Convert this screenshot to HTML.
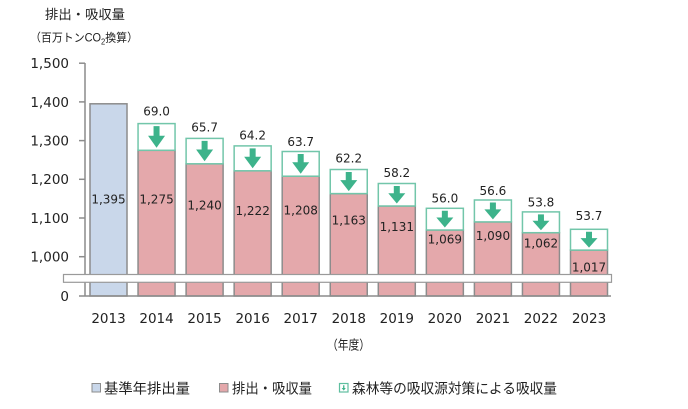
<!DOCTYPE html>
<html><head><meta charset="utf-8"><style>
html,body{margin:0;padding:0;background:#fff;}
svg{display:block;}
.t{font-family:"DejaVu Sans","Liberation Sans",sans-serif;fill:#222;}
.j{font-family:"Liberation Sans","Noto Sans CJK JP",sans-serif;fill:#222;}
</style></head><body>
<svg width="688" height="409" viewBox="0 0 688 409" xmlns="http://www.w3.org/2000/svg">
<rect width="688" height="409" fill="#fff"/>
<!-- titles -->
<text class="j" x="45" y="19" font-size="13" textLength="80" lengthAdjust="spacingAndGlyphs">排出・吸収量</text>
<text class="j" x="30" y="41.5" font-size="11.5" textLength="108" lengthAdjust="spacingAndGlyphs">（百万トンCO<tspan font-size="8" dy="3">2</tspan><tspan dy="-3">換算）</tspan></text>

<!-- y tick labels -->
<g class="t" font-size="13.5" text-anchor="end">
<text x="69" y="68.1">1,500</text>
<text x="69" y="106.8">1,400</text>
<text x="69" y="145.5">1,300</text>
<text x="69" y="184.2">1,200</text>
<text x="69" y="222.9">1,100</text>
<text x="69" y="261.6">1,000</text>
<text x="69" y="300.9">0</text>
</g>

<!-- bars -->
<g stroke="#8c8c8c" stroke-width="1.5">
<rect x="90" y="103.8" width="37" height="192.2" fill="#c9d7ea"/>
<rect x="138.05" y="150.3" width="37" height="145.7" fill="#e4a8ab"/>
<rect x="186.1" y="163.8" width="37" height="132.2" fill="#e4a8ab"/>
<rect x="234.15" y="170.8" width="37" height="125.2" fill="#e4a8ab"/>
<rect x="282.2" y="176.2" width="37" height="119.8" fill="#e4a8ab"/>
<rect x="330.25" y="193.6" width="37" height="102.4" fill="#e4a8ab"/>
<rect x="378.3" y="206.0" width="37" height="90" fill="#e4a8ab"/>
<rect x="426.35" y="230.0" width="37" height="66" fill="#e4a8ab"/>
<rect x="474.4" y="221.9" width="37" height="74.1" fill="#e4a8ab"/>
<rect x="522.45" y="232.7" width="37" height="63.3" fill="#e4a8ab"/>
<rect x="570.5" y="250.1" width="37" height="45.9" fill="#e4a8ab"/>
</g>

<!-- green boxes -->
<g stroke="#72c6aa" stroke-width="1.5" fill="#fff">
<rect x="138.05" y="123.6" width="37" height="26.7"/>
<rect x="186.1" y="138.4" width="37" height="25.4"/>
<rect x="234.15" y="145.9" width="37" height="24.9"/>
<rect x="282.2" y="151.5" width="37" height="24.7"/>
<rect x="330.25" y="169.5" width="37" height="24.1"/>
<rect x="378.3" y="183.5" width="37" height="22.5"/>
<rect x="426.35" y="208.3" width="37" height="21.7"/>
<rect x="474.4" y="200.0" width="37" height="21.9"/>
<rect x="522.45" y="211.9" width="37" height="20.8"/>
<rect x="570.5" y="229.3" width="37" height="20.8"/>
</g>

<!-- arrows -->
<g fill="#3db38b">
<polygon points="153.55,126.1 159.55,126.1 159.55,135.8 165.05,135.8 156.55,147.8 148.05,135.8 153.55,135.8"/>
<polygon points="201.6,140.9 207.6,140.9 207.6,149.5 213.1,149.5 204.6,161.3 196.1,149.5 201.6,149.5"/>
<polygon points="249.65,148.4 255.65,148.4 255.65,156.8 261.15,156.8 252.65,168.3 244.15,156.8 249.65,156.8"/>
<polygon points="297.7,154 303.7,154 303.7,162.3 309.2,162.3 300.7,173.7 292.2,162.3 297.7,162.3"/>
<polygon points="345.75,172 351.75,172 351.75,180.1 357.25,180.1 348.75,191.1 340.25,180.1 345.75,180.1"/>
<polygon points="393.8,186 399.8,186 399.8,193.3 405.3,193.3 396.8,203.5 388.3,193.3 393.8,193.3"/>
<polygon points="441.85,210.8 447.85,210.8 447.85,217.5 453.35,217.5 444.85,227.5 436.35,217.5 441.85,217.5"/>
<polygon points="489.9,202.5 495.9,202.5 495.9,209.4 501.4,209.4 492.9,219.4 484.4,209.4 489.9,209.4"/>
<polygon points="537.95,214.4 543.95,214.4 543.95,220.7 549.45,220.7 540.95,230.2 532.45,220.7 537.95,220.7"/>
<polygon points="586,231.8 592,231.8 592,238.1 597.5,238.1 589,247.6 580.5,238.1 586,238.1"/>
</g>

<!-- axes -->
<g stroke="#8c8c8c" stroke-width="1.5" fill="none">
<line x1="85" y1="63" x2="85" y2="296"/>
<line x1="79" y1="296" x2="611" y2="296"/>
<line x1="79" y1="63.2" x2="85" y2="63.2"/>
<line x1="79" y1="101.9" x2="85" y2="101.9"/>
<line x1="79" y1="140.6" x2="85" y2="140.6"/>
<line x1="79" y1="179.3" x2="85" y2="179.3"/>
<line x1="79" y1="218" x2="85" y2="218"/>
<line x1="79" y1="256.7" x2="85" y2="256.7"/>
</g>
<!-- break band -->
<rect x="63.5" y="274.5" width="548" height="7.8" fill="#fff" stroke="#9a9a9a" stroke-width="1.2"/>

<!-- bar value labels -->
<g class="t" font-size="12" text-anchor="middle">
<text x="108.5" y="203.4">1,395</text>
<text x="156.55" y="203.4">1,275</text>
<text x="204.6" y="209.4">1,240</text>
<text x="252.65" y="215">1,222</text>
<text x="300.7" y="214.7">1,208</text>
<text x="348.75" y="224.4">1,163</text>
<text x="396.8" y="231">1,131</text>
<text x="444.85" y="243.4">1,069</text>
<text x="492.9" y="240.1">1,090</text>
<text x="540.95" y="247.7">1,062</text>
<text x="589" y="271.7">1,017</text>
</g>
<!-- removal labels -->
<g class="t" font-size="12" text-anchor="middle">
<text x="156.55" y="115.4">69.0</text>
<text x="204.6" y="131.7">65.7</text>
<text x="252.65" y="139.4">64.2</text>
<text x="300.7" y="146.1">63.7</text>
<text x="348.75" y="162.7">62.2</text>
<text x="396.8" y="177.1">58.2</text>
<text x="444.85" y="202.7">56.0</text>
<text x="492.9" y="195.1">56.6</text>
<text x="540.95" y="206.7">53.8</text>
<text x="589" y="220.1">53.7</text>
</g>

<!-- x labels -->
<g class="t" font-size="13.5" text-anchor="middle">
<text x="108.5" y="322.9">2013</text>
<text x="156.55" y="322.9">2014</text>
<text x="204.6" y="322.9">2015</text>
<text x="252.65" y="322.9">2016</text>
<text x="300.7" y="322.9">2017</text>
<text x="348.75" y="322.9">2018</text>
<text x="396.8" y="322.9">2019</text>
<text x="444.85" y="322.9">2020</text>
<text x="492.9" y="322.9">2021</text>
<text x="540.95" y="322.9">2022</text>
<text x="589" y="322.9">2023</text>
</g>
<text class="j" x="327" y="349.5" font-size="13" textLength="43" lengthAdjust="spacingAndGlyphs">（年度）</text>

<!-- legend -->
<rect x="92" y="383.5" width="8.5" height="8.5" fill="#c9d7ea" stroke="#8c8c8c" stroke-width="1"/>
<text class="j" x="104" y="393.5" font-size="14" textLength="86" lengthAdjust="spacingAndGlyphs">基準年排出量</text>
<rect x="219.5" y="383.5" width="8.5" height="8.5" fill="#e4a8ab" stroke="#8c8c8c" stroke-width="1"/>
<text class="j" x="232" y="393.5" font-size="14" textLength="80" lengthAdjust="spacingAndGlyphs">排出・吸収量</text>
<rect x="339.5" y="383.5" width="8.5" height="8.5" fill="#fff" stroke="#5fbf9f" stroke-width="1.2"/>
<polygon points="343.1,385.2 344.4,385.2 344.4,388 345.8,388 343.75,390.6 341.7,388 343.1,388" fill="#3db38b"/>
<text class="j" x="352" y="393.5" font-size="14" textLength="205" lengthAdjust="spacingAndGlyphs">森林等の吸収源対策による吸収量</text>
</svg>
</body></html>
